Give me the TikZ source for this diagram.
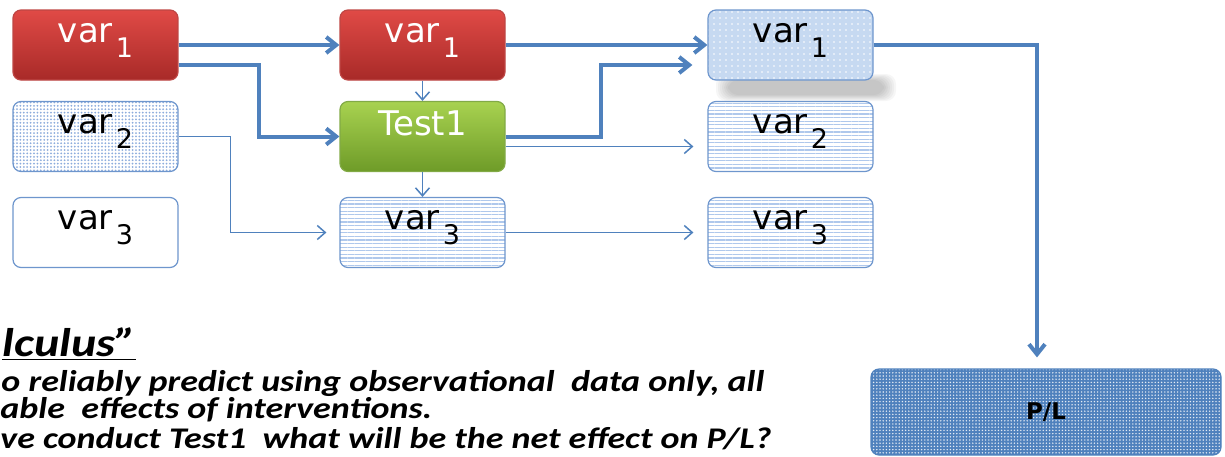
\documentclass[tikz,border=0pt]{standalone}
\usepackage{fontspec}
\newfontfamily\boxfont{DejaVu Sans}
\newfontfamily\notefont{Carlito}
\usetikzlibrary{arrows.meta,patterns.meta}
\definecolor{arrowblue}{RGB}{79,129,189}
\definecolor{boxline}{RGB}{110,150,205}
\definecolor{stripe}{RGB}{175,200,236}
\definecolor{dotblue}{RGB}{140,172,220}
\definecolor{lightfill}{RGB}{198,217,241}
\definecolor{redtop}{RGB}{224,74,70}
\definecolor{redbot}{RGB}{168,42,40}
\definecolor{redline}{RGB}{190,70,68}
\definecolor{greentop}{RGB}{168,210,80}
\definecolor{greenbot}{RGB}{110,155,40}
\definecolor{greenline}{RGB}{130,170,70}
\newcommand\varsub[1]{var\kern1.5pt\raisebox{-7.5pt}{\fontsize{13.5}{13.5}\selectfont #1}}

\begin{document}
\begin{tikzpicture}[x=0.5pt,y=-0.5pt]
\tikzstyle{basebox}=[rectangle, rounded corners=4pt, minimum width=82.5pt, minimum height=35pt, inner sep=0pt, draw=boxline, line width=0.6pt, font=\boxfont\fontsize{17}{17}\selectfont]
\tikzstyle{vtxt}=[text height=9pt, text depth=12pt]
\tikzstyle{redbox}=[basebox, draw=redline, top color=redtop, bottom color=redbot, text=white]
\tikzstyle{greenbox}=[basebox, draw=greenline, top color=greentop, bottom color=greenbot, text=white, text height=12.4pt, text depth=13pt]
\tikzstyle{dotbox}=[basebox, preaction={fill=white}, pattern={Dots[distance=1.7pt,radius=0.5pt]}, pattern color=dotblue]
\tikzstyle{stripebox}=[basebox, preaction={fill=white}, pattern={Lines[angle=0,distance=1.8pt,line width=0.6pt]}, pattern color=stripe]
\tikzstyle{lightbox}=[basebox, preaction={fill=lightfill}, pattern={Dots[distance=3pt,radius=0.4pt]}, pattern color=white]
\tikzstyle{plbox}=[basebox, minimum width=175pt, minimum height=43pt, draw=arrowblue, preaction={fill=arrowblue}, pattern={Dots[distance=1.6pt,radius=0.4pt]}, pattern color=white!85!arrowblue, font=\boxfont\bfseries\fontsize{11.5}{11.5}\selectfont]
\tikzstyle{fat}=[draw=arrowblue, line width=2pt, -{Straight Barb[length=5pt,width=8pt]}]
\tikzstyle{thin}=[draw=arrowblue, line width=0.75pt, -{Straight Barb[length=4pt,width=7pt]}]
\tikzstyle{notetxt}=[inner sep=0pt, anchor=base west, xscale=1.2, transform shape, font=\notefont\bfseries\itshape\fontsize{15}{15}\selectfont]

\useasboundingbox (0,0) rectangle (1225,456);
\clip (0,0) rectangle (1225,456);

\foreach \k in {0,...,6}
  \fill[black, opacity=0.035, rounded corners=5pt] (716+2*\k,74+\k) rectangle (896-2*\k,101-\k);

\node[redbox,vtxt] (a1) at (95.5,45) {\varsub{1}};
\node[dotbox,vtxt] (a2) at (95.5,136.5) {\varsub{2}};
\node[basebox,fill=white,vtxt] (a3) at (95.5,232.5) {\varsub{3}};
\node[redbox,vtxt] (b1) at (422.5,45) {\varsub{1}};
\node[greenbox] (t1) at (422.5,136.5) {Test1};
\node[stripebox,vtxt] (b3) at (422.5,232.5) {\varsub{3}};
\node[lightbox,vtxt] (c1) at (790.5,45) {\varsub{1}};
\node[stripebox,vtxt] (c2) at (790.5,136.5) {\varsub{2}};
\node[stripebox,vtxt] (c3) at (790.5,232.5) {\varsub{3}};
\node[plbox] (pl) at (1046,412) {P/L};

\draw[fat] (a1.east) -- (b1.west);
\draw[fat] ([yshift=-10pt]a1.east) -- ++(80,0) |- (t1.west);
\draw[thin] (b1.south) -- (t1.north);
\draw[thin] (t1.south) -- (b3.north);
\draw[thin, shorten >=6.5pt] (a2.east) -- ++(52,0) |- (b3.west);
\draw[fat] (b1.east) -- (c1.west);
\draw[fat, shorten >=7.5pt] (t1.east) -- ++(95,0) |- ([yshift=-10pt]c1.west);
\draw[thin, shorten >=7pt] ([yshift=-5pt]t1.east) -- ([yshift=-5pt]c2.west);
\draw[thin, shorten >=7pt] (b3.east) -- (c3.west);
\draw[fat, shorten >=5.5pt] (c1.east) -| ([xshift=-4.5pt]pl.north);

\node[notetxt, font=\notefont\bfseries\itshape\fontsize{20}{20}\selectfont] (h1) at (2,356) {\underline{lculus”}};
\node[notetxt] (n1) at (1,391) {o reliably predict using observational\ \ data only, all};
\node[notetxt] (n2) at (0,418) {able\ \ effects of interventions.};
\node[notetxt] (n3) at (0,448) {ve conduct Test1\ \ what will be the net effect on P/L?};
\end{tikzpicture}
\end{document}
